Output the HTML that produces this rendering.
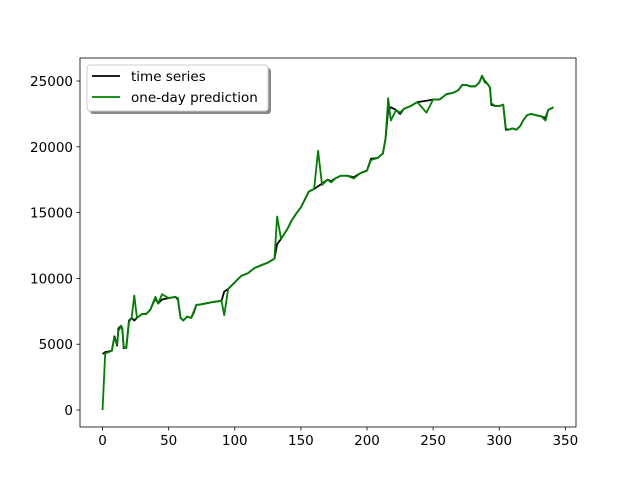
<!DOCTYPE html>
<html><head><meta charset="utf-8"><style>
html,body{margin:0;padding:0;background:#fff;}
svg text{font-family:"DejaVu Sans","Liberation Sans",sans-serif;font-size:13.5px;fill:#000;}
</style></head><body>
<svg id="chart" width="640" height="480" xmlns="http://www.w3.org/2000/svg">
<rect x="0" y="0" width="640" height="480" fill="#fff"/>
<g id="marks"></g>
<g id="axes"></g>
</svg>
<script>
const days = [0,2,7,9,11,12,14,15,16,18,20,22,24,26,30,33,36,40,42,45,50,55,57,59,61,64,67,69,71,73,78,83,90,92,95,100,105,110,115,120,125,130,132,135,140,143,147,150,153,156,160,163,166,170,173,176,180,185,190,195,200,203,208,212,214,216,218,222,225,228,233,238,245,250,255,260,265,269,272,275,278,282,285,287,289,291,293,294,297,300,303,305,307,310,313,316,318,321,324,328,332,335,337,341];
const actual = [4250,4400,4500,5600,4900,6200,6400,6100,4700,4800,6800,7000,6800,7000,7300,7300,7600,8500,8100,8400,8500,8600,8400,7000,6800,7100,7000,7400,8000,8000,8100,8200,8300,9000,9200,9700,10200,10400,10800,11000,11200,11500,12600,13000,13800,14400,15000,15400,16000,16600,16800,17000,17200,17500,17400,17600,17800,17800,17700,18000,18200,19100,19150,19500,20600,22800,23000,22800,22500,22900,23100,23400,23500,23600,23600,24000,24100,24300,24700,24700,24600,24600,24900,25400,25000,24800,24500,23200,23100,23100,23200,21300,21300,21400,21300,21600,22000,22400,22500,22400,22300,22200,22800,23000];
const predicted = [0,4300,4500,5500,5000,6000,6400,6200,4800,4700,6700,7000,8700,7000,7300,7300,7600,8600,8100,8800,8500,8600,8500,7000,6800,7100,7000,7500,8000,8000,8100,8200,8300,7200,9200,9700,10200,10400,10800,11000,11200,11500,14700,13000,13800,14400,15000,15400,16000,16600,16800,19700,17100,17500,17300,17600,17800,17800,17600,18000,18200,19000,19150,19500,20600,23700,22000,22800,22600,22900,23100,23400,22600,23600,23600,24000,24100,24300,24700,24700,24600,24600,24900,25400,24900,24800,24500,23300,23100,23100,23200,21400,21300,21400,21300,21600,22000,22400,22500,22400,22300,22000,22800,23000];
const xTicks = [0,50,100,150,200,250,300,350];
const yTicks = [0,5000,10000,15000,20000,25000];

const L=80,R=576,T=58,B=427;
const xMin=-17.05,xMax=358.05,yMin=-1290,yMax=26750;
const sx=v=>L+(v-xMin)/(xMax-xMin)*(R-L);
const sy=v=>B-(v-yMin)/(yMax-yMin)*(B-T);
const NS="http://www.w3.org/2000/svg";
const marks=document.getElementById('marks'), axes=document.getElementById('axes');
function mk(tag,attrs,parent){const e=document.createElementNS(NS,tag);for(const k in attrs)e.setAttribute(k,attrs[k]);parent.appendChild(e);return e;}
function line(vals,color,name){
  const d=days.map((x,i)=>(i?'L':'M')+sx(x).toFixed(2)+','+sy(vals[i]).toFixed(2)).join('');
  const p=mk('path',{d:d,fill:'none',stroke:color,'stroke-width':1.8,'stroke-linejoin':'round'},marks);
  
  
}
line(actual,'#000','time-series-line');
line(predicted,'#008000','prediction-line');
const frame=mk('rect',{x:L,y:T,width:R-L,height:B-T,fill:'none',stroke:'#000','stroke-width':0.8},axes);


xTicks.forEach(v=>{
  const x=sx(v);
  const t=mk('line',{x1:x,x2:x,y1:B,y2:B+3.5,stroke:'#000','stroke-width':0.8},axes);
  
  
  const l=mk('text',{x:x,y:B+18,'text-anchor':'middle'},axes);l.textContent=v;
  
  
});
yTicks.forEach(v=>{
  const y=sy(v);
  const t=mk('line',{x1:L-3.5,x2:L,y1:y,y2:y,stroke:'#000','stroke-width':0.8},axes);
  
  
  const l=mk('text',{x:L-7,y:y+5,'text-anchor':'end'},axes);l.textContent=v;
  
  
});
const lg=mk('g',{},axes);


mk('rect',{x:90,y:68,width:181,height:46,rx:3,fill:'#888'},lg);
mk('rect',{x:87,y:65,width:181,height:46,rx:3,fill:'#fff',stroke:'#ccc','stroke-width':1},lg);
mk('line',{x1:92,x2:120,y1:76,y2:76,stroke:'#000','stroke-width':1.8},lg);
mk('line',{x1:92,x2:120,y1:97,y2:97,stroke:'#008000','stroke-width':1.8},lg);
const t1=mk('text',{x:131,y:81},lg);t1.textContent='time series';


const t2=mk('text',{x:131,y:102},lg);t2.textContent='one-day prediction';


</script>
</body></html>
